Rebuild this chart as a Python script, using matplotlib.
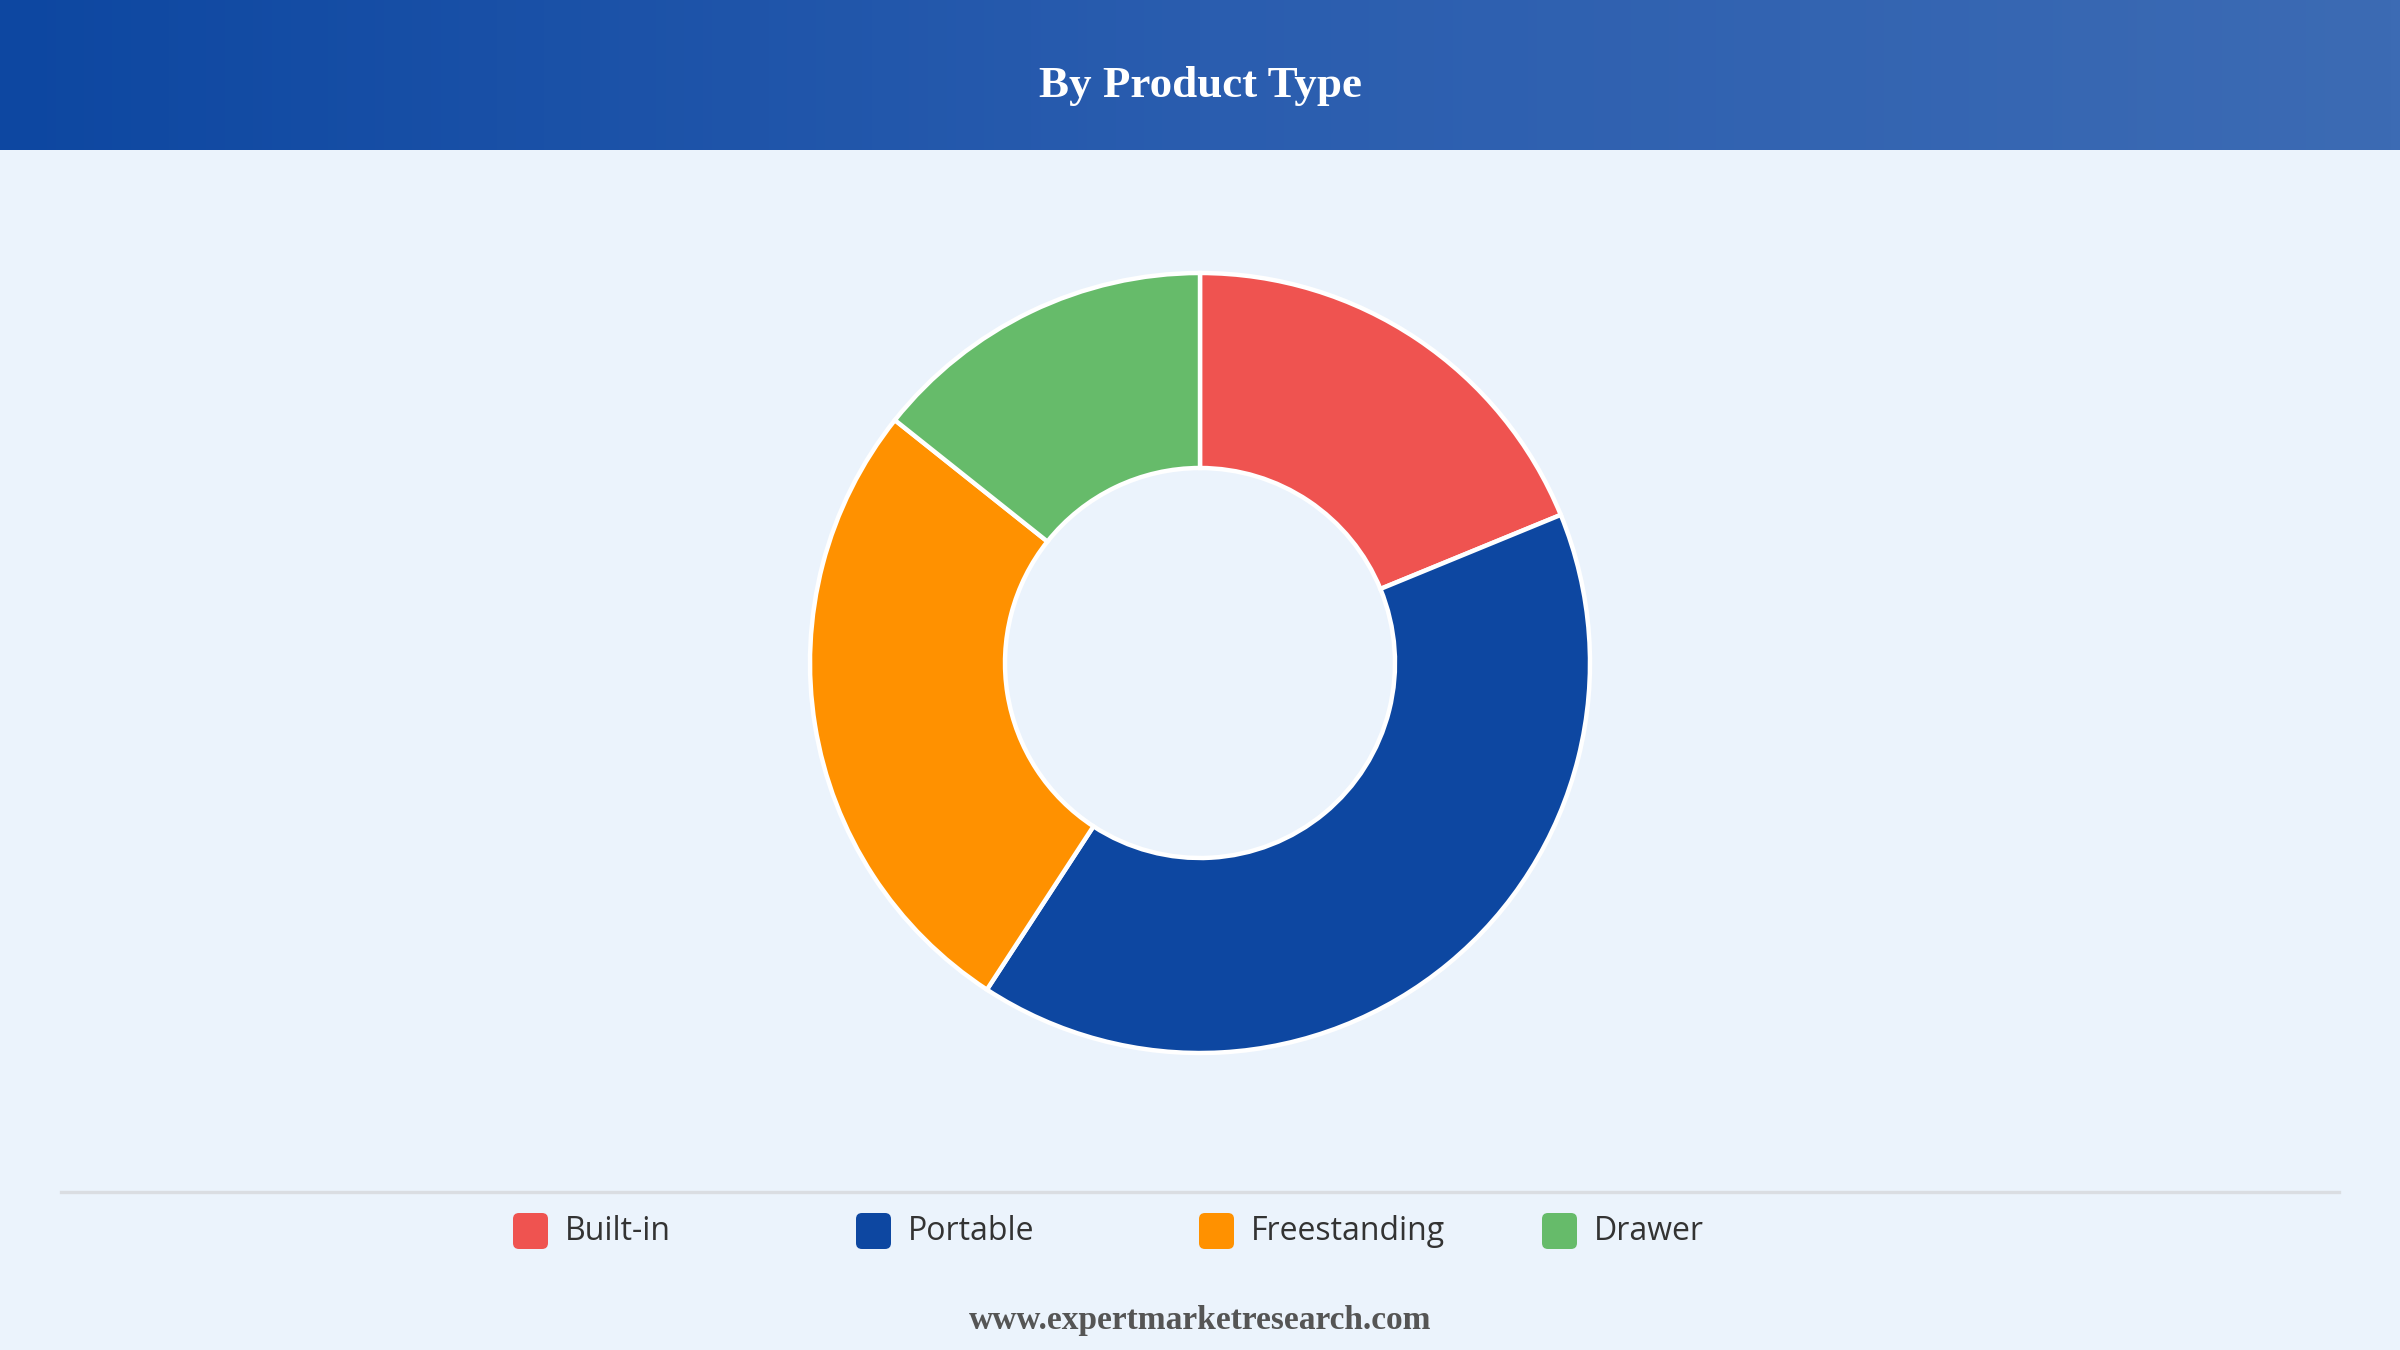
import numpy as np
import matplotlib
matplotlib.use("Agg")
import matplotlib.pyplot as plt
from matplotlib.patches import FancyBboxPatch
from matplotlib.colors import LinearSegmentedColormap

# Data
categories = ["Built-in", "Portable", "Freestanding", "Drawer"]
shares = [18.8, 40.4, 26.5, 14.3]
colors = ["#EF5350", "#0D47A1", "#FF9100", "#66BB6A"]

title = "By Product Type"
footer = "www.expertmarketresearch.com"

W, H, DPI = 2400, 1350, 200
fig = plt.figure(figsize=(W / DPI, H / DPI), dpi=DPI)
fig.patch.set_facecolor("#EBF3FC")

# header band with gradient
hdr_h = 150
ax_h = fig.add_axes([0, 1 - hdr_h / H, 1, hdr_h / H])
cmap = LinearSegmentedColormap.from_list("hdr", ["#0D47A1", "#2A5DAF", "#3C6BB4"])
ax_h.imshow(np.linspace(0, 1, 512).reshape(1, -1), aspect="auto", cmap=cmap,
            extent=[0, 1, 0, 1])
ax_h.set_xlim(0, 1)
ax_h.set_ylim(0, 1)
ax_h.axis("off")
ax_h.text(0.5, 0.43, title, ha="center", va="center", color="white",
          fontsize=16.2, fontweight="bold", family="Liberation Serif")

# donut
cx, cy, r = 1200, 663, 390
ax = fig.add_axes([(cx - r) / W, (H - cy - r) / H, 2 * r / W, 2 * r / H])
wedges, _ = ax.pie(shares, colors=colors, startangle=90, counterclock=False,
                   radius=1, wedgeprops=dict(width=0.5, edgecolor="white",
                                             linewidth=1.6))
for w in wedges:
    w.set_clip_on(False)
ax.set_xlim(-1, 1)
ax.set_ylim(-1, 1)
ax.set_aspect("equal")
ax.axis("off")

# overlay for separator, legend, footer (pixel coordinates)
ov = fig.add_axes([0, 0, 1, 1], zorder=-1)
ov.set_xlim(0, W)
ov.set_ylim(H, 0)
ov.axis("off")
ov.plot([61, 2339], [1192, 1192], color="#DADDE2", lw=1.2)

leg_x0, leg_dx, leg_y = 513, 343, 1231
for i, (name, col) in enumerate(zip(categories, colors)):
    x = leg_x0 + i * leg_dx
    box = FancyBboxPatch((x + 4, leg_y - 14), 27, 28,
                         boxstyle="round,pad=4,rounding_size=6",
                         facecolor=col, edgecolor="none")
    ov.add_patch(box)
    ov.text(x + 52, leg_y + 1, name, ha="left", va="center", color="#333333",
            fontsize=11.5, fontweight="medium", family="Open Sans")

ov.text(W / 2, 1321, footer, ha="center", va="center", color="#555555",
        fontsize=12, fontweight="bold", family="Liberation Serif")

fig.savefig("out.png", dpi=DPI, facecolor=fig.get_facecolor())
